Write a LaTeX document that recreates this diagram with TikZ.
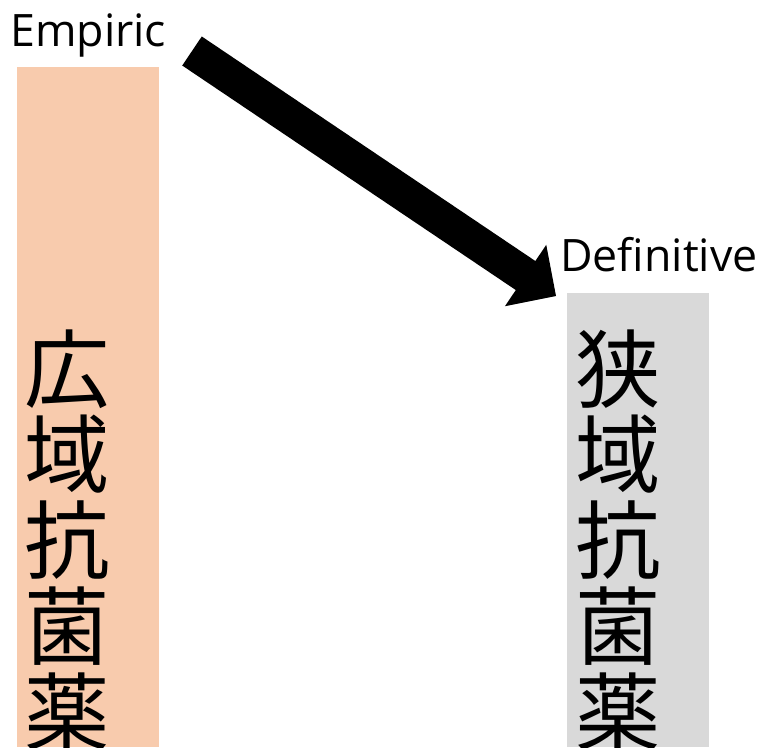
\documentclass[tikz,border=0pt]{standalone}
\usepackage{fontspec}
\setmainfont{Open Sans}
\newfontfamily\cjk{Noto Sans CJK JP}
\usetikzlibrary{calc}
\definecolor{peach}{HTML}{F8CBAD}
\definecolor{lgray}{HTML}{D9D9D9}
\begin{document}
\begin{tikzpicture}[x=0.75pt,y=-0.75pt,
  lbl/.style={inner sep=0pt, font=\fontsize{33.5}{33.5}\selectfont, anchor=base west},
  jp/.style={inner sep=0pt, font=\cjk\fontsize{64}{64}\selectfont, anchor=base},
  bar/.style={inner sep=0pt, anchor=north west, minimum width=106.5pt}]
\useasboundingbox (0,0) rectangle (759,747);
% columns
\node[bar, fill=peach, minimum height=510pt] (wide) at (17,67) {};
\node[bar, fill=lgray, minimum height=340.5pt] (narrow) at (567,293) {};
% labels
\node[lbl] (emp) at (10,46.7) {Empiric};
\node[lbl] (def) at (560,271) {Definitive};
% vertical texts
\foreach \c [count=\i from 0] in {広,域,抗,菌,薬}
  \node[jp] (w\i) at (67,401+\i*85.75) {\c};
\foreach \c [count=\i from 0] in {狭,域,抗,菌,薬}
  \node[jp] (n\i) at (618,401+\i*85.75) {\c};
% block arrow
\coordinate (tail) at (192,51);
\coordinate (tip) at (556,296);
\coordinate (hb) at ($(tip)!27.5pt!(tail)$);
\fill[black]
  ($(tail)!13.125pt!90:(tip)$) --
  ($(hb)!13.125pt!-90:(tail)$) --
  ($(hb)!27.75pt!-90:(tail)$) --
  (tip) --
  ($(hb)!27.75pt!90:(tail)$) --
  ($(hb)!13.125pt!90:(tail)$) --
  ($(tail)!13.125pt!-90:(tip)$) -- cycle;
\end{tikzpicture}
\end{document}
